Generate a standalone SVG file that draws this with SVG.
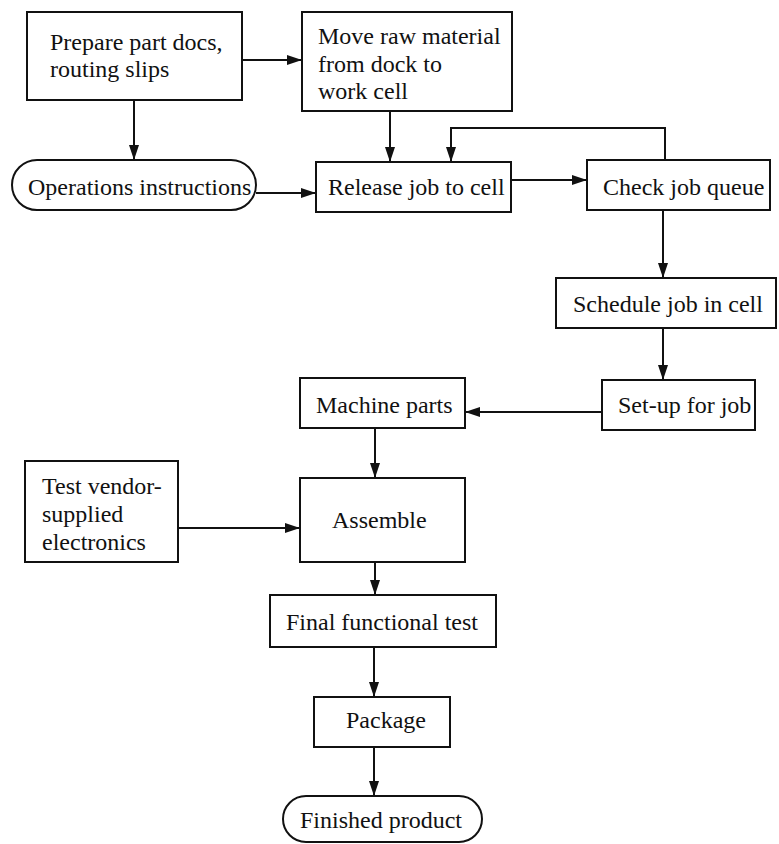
<svg xmlns="http://www.w3.org/2000/svg" width="779" height="844" viewBox="0 0 779 844">
<style>
.box{fill:#fff;stroke:#111;stroke-width:2}
.t{font-family:"Liberation Serif","Times New Roman",serif;font-size:24px;fill:#111}
.c{fill:none;stroke:#111;stroke-width:2}
</style>
<defs>
<marker id="ah" viewBox="0 0 15 10" refX="15" refY="5" markerWidth="15" markerHeight="10" markerUnits="userSpaceOnUse" orient="auto">
<path d="M0,0 L15,5 L0,10 Z" fill="#111"/>
</marker>
</defs>
<rect width="779" height="844" fill="#fff"/>
<g id="connectors">
<path class="c" d="M242,60 H302" marker-end="url(#ah)"/>
<path class="c" d="M134,100 V160" marker-end="url(#ah)"/>
<path class="c" d="M390,111 V162" marker-end="url(#ah)"/>
<path class="c" d="M256,193 H316" marker-end="url(#ah)"/>
<path class="c" d="M511,180 H587" marker-end="url(#ah)"/>
<path class="c" d="M665,160 V128 H451 V162" marker-end="url(#ah)"/>
<path class="c" d="M663,210 V278" marker-end="url(#ah)"/>
<path class="c" d="M663,328 V380" marker-end="url(#ah)"/>
<path class="c" d="M602,412 H465" marker-end="url(#ah)"/>
<path class="c" d="M375,428 V478" marker-end="url(#ah)"/>
<path class="c" d="M178,528 H300" marker-end="url(#ah)"/>
<path class="c" d="M375,562 V595" marker-end="url(#ah)"/>
<path class="c" d="M374,647 V697" marker-end="url(#ah)"/>
<path class="c" d="M374,747 V796" marker-end="url(#ah)"/>
</g>
<g id="prepare">
<rect class="box" x="27" y="12" width="215" height="88"/>
<text class="t" x="50" y="50">Prepare part docs,</text>
<text class="t" x="50" y="77">routing slips</text>
</g>
<g id="move">
<rect class="box" x="302" y="12" width="210" height="99"/>
<text class="t" x="318" y="44">Move raw material</text>
<text class="t" x="318" y="72">from dock to</text>
<text class="t" x="318" y="99">work cell</text>
</g>
<g id="operations">
<rect class="box" x="12" y="160" width="244" height="50" rx="25" ry="25"/>
<text class="t" x="28" y="195">Operations instructions</text>
</g>
<g id="release">
<rect class="box" x="316" y="162" width="195" height="50"/>
<text class="t" x="328" y="195">Release job to cell</text>
</g>
<g id="check">
<rect class="box" x="587" y="160" width="183" height="50"/>
<text class="t" x="603" y="195">Check job queue</text>
</g>
<g id="schedule">
<rect class="box" x="556" y="278" width="220" height="50"/>
<text class="t" x="573" y="312">Schedule job in cell</text>
</g>
<g id="setup">
<rect class="box" x="602" y="380" width="153" height="50"/>
<text class="t" x="618" y="413">Set-up for job</text>
</g>
<g id="machine">
<rect class="box" x="300" y="378" width="165" height="50"/>
<text class="t" x="316" y="413">Machine parts</text>
</g>
<g id="testvendor">
<rect class="box" x="25" y="461" width="153" height="101"/>
<text class="t" x="42" y="494">Test vendor-</text>
<text class="t" x="42" y="522">supplied</text>
<text class="t" x="42" y="550">electronics</text>
</g>
<g id="assemble">
<rect class="box" x="300" y="478" width="165" height="84"/>
<text class="t" x="332" y="528">Assemble</text>
</g>
<g id="final">
<rect class="box" x="270" y="595" width="226" height="52"/>
<text class="t" x="286" y="630">Final functional test</text>
</g>
<g id="package">
<rect class="box" x="314" y="697" width="136" height="50"/>
<text class="t" x="346" y="728">Package</text>
</g>
<g id="finished">
<rect class="box" x="283" y="796" width="199" height="46" rx="23" ry="23"/>
<text class="t" x="300" y="828">Finished product</text>
</g>
</svg>
